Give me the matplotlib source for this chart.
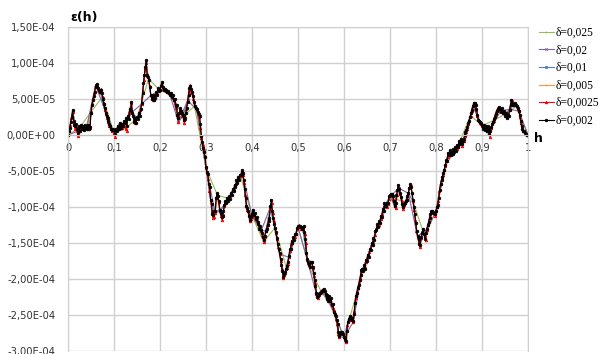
import numpy as np
import matplotlib.pyplot as plt
from matplotlib.ticker import FuncFormatter, MultipleLocator

# epsilon(h), in units of 1e-5, step delta = 0.002 (10 values per row = 0.02 in h)
eps_0002 = [
    0.0, 0.5, 1.0, 1.8, 2.5, 3.5, 2.0, 1.4, 1.3, 1.5,
    0.9, 0.3, 1.2, 0.6, 1.4, 0.9, 1.3, 0.7, 1.4, 1.0,
    1.3, 0.8, 1.4, 0.9, 1.1, 3.0, 4.2, 4.8, 5.4, 6.0,
    6.8, 7.1, 6.6, 6.5, 6.2, 6.0, 6.3, 5.8, 5.0, 4.3,
    3.7, 3.1, 2.6, 2.3, 1.9, 1.5, 1.2, 0.9, 0.7, 0.9,
    0.7, 0.2, 0.9, 0.5, 1.3, 0.8, 1.7, 1.2, 1.0, 1.5,
    1.2, 2.0, 1.6, 2.3, 1.2, 2.6, 2.2, 3.6, 3.3, 4.6,
    3.0, 2.6, 1.8, 2.4, 1.7, 2.5, 2.2, 3.0, 2.7, 3.6,
    4.4, 5.8, 7.2, 8.4, 9.5, 10.4, 8.3, 8.1, 7.6, 6.7,
    5.6, 5.0, 5.5, 4.8, 5.3, 5.2, 6.0, 5.6, 6.5, 6.1,
    6.2, 6.8, 7.3, 6.6, 6.3, 6.4, 6.3, 6.1, 6.0, 6.1,
    5.9, 5.5, 5.9, 5.3, 5.5, 4.8, 5.0, 4.0, 4.2, 2.8,
    2.3, 3.0, 3.8, 3.3, 3.0, 2.8, 2.1, 2.3, 3.0, 3.7,
    4.6, 5.5, 6.5, 6.8, 6.4, 6.0, 5.4, 4.6, 4.0, 3.8,
    3.6, 3.2, 2.9, 2.7, 1.5, -0.2, -1.0, -1.8, -2.4, -3.0,
    -4.4, -5.2, -5.4, -6.8, -7.2, -9.0, -9.6, -11.0, -11.1, -10.6,
    -10.5, -8.8, -8.1, -8.5, -9.2, -10.4, -10.9, -11.4, -11.2, -10.5,
    -9.7, -9.1, -9.5, -8.7, -9.2, -8.5, -8.9, -8.1, -8.3, -7.5,
    -7.8, -6.9, -7.2, -6.3, -6.6, -5.8, -6.2, -5.5, -5.6, -4.9,
    -5.3, -6.2, -7.5, -8.7, -9.8, -10.2, -10.6, -11.2, -11.8, -11.4,
    -11.0, -10.4, -11.1, -10.8, -11.6, -11.4, -12.3, -12.1, -13.0, -12.6,
    -13.2, -13.6, -14.1, -14.6, -14.0, -13.4, -13.0, -12.5, -12.0, -11.5,
    -9.8, -9.0, -10.5, -11.5, -12.3, -12.9, -13.5, -14.3, -15.2, -15.8,
    -16.4, -17.2, -18.0, -18.9, -19.7, -19.3, -19.0, -18.6, -18.2, -17.6,
    -16.8, -15.9, -15.9, -14.7, -15.0, -14.2, -14.6, -13.7, -13.8, -12.9,
    -12.7, -12.6, -12.6, -12.8, -13.0, -12.8, -12.7, -13.5, -14.5, -16.4,
    -17.2, -17.6, -18.0, -18.3, -17.6, -17.6, -18.4, -19.2, -20.1, -21.0,
    -22.0, -22.5, -22.3, -22.1, -22.0, -21.8, -21.6, -21.5, -21.4, -21.6,
    -22.1, -22.8, -22.2, -23.0, -22.4, -23.1, -22.6, -23.6, -23.5, -24.6,
    -24.8, -25.2, -25.7, -26.2, -27.3, -27.9, -27.6, -27.3, -27.4, -27.7,
    -28.0, -28.3, -28.6, -27.2, -26.0, -25.6, -25.3, -25.2, -25.4, -25.7,
    -25.9, -24.8, -23.3, -22.4, -21.9, -21.3, -20.8, -20.2, -19.5, -18.8,
    -18.6, -18.9, -18.1, -18.6, -17.4, -17.5, -16.6, -16.9, -15.8, -16.0,
    -15.0, -15.3, -14.3, -14.6, -13.3, -13.2, -12.4, -12.8, -12.0, -12.2,
    -11.2, -11.4, -10.3, -10.5, -9.4, -9.8, -9.9, -9.5, -9.4, -8.5,
    -8.4, -8.2, -8.2, -8.5, -9.2, -9.9, -9.5, -8.4, -7.6, -6.9,
    -7.5, -8.1, -8.6, -9.6, -10.0, -9.6, -9.4, -9.2, -9.0, -8.5,
    -8.0, -7.4, -6.8, -7.2, -8.0, -9.0, -10.0, -11.0, -12.2, -13.4,
    -14.0, -14.5, -15.2, -15.3, -14.2, -13.6, -13.0, -13.8, -14.4, -13.6,
    -13.0, -12.5, -12.1, -11.5, -11.0, -10.6, -10.5, -10.8, -10.9, -11.0,
    -10.5, -10.0, -9.7, -8.8, -7.6, -6.8, -6.2, -5.8, -5.3, -4.8,
    -4.2, -3.5, -3.6, -2.5, -2.8, -2.1, -2.8, -2.3, -2.7, -2.0,
    -2.4, -1.7, -2.2, -1.4, -1.7, -0.8, -1.2, -0.6, -1.3, -0.9,
    -0.6, 0.0, 0.4, 0.7, 1.1, 1.6, 2.0, 2.5, 3.0, 3.5,
    4.0, 4.4, 4.5, 4.1, 3.6, 2.8, 2.1, 2.0, 1.8, 1.6,
    1.4, 0.9, 1.4, 0.7, 1.2, 0.5, 1.3, 0.8, 0.1, 0.5,
    1.1, 1.5, 1.8, 2.2, 2.5, 2.9, 3.3, 3.6, 3.9, 3.6,
    3.6, 3.2, 3.7, 3.0, 3.4, 2.7, 3.1, 2.4, 2.8, 2.6,
    3.5, 4.2, 4.9, 4.5, 4.2, 4.3, 4.4, 4.2, 4.0, 3.7,
    3.4, 2.8, 2.0, 1.2, 0.9, 0.6, 0.5, 0.3, 0.1, 0.0,
    0.0,
]

# step delta = 0.0025 (8 values per row = 0.02 in h)
eps_00025 = [
    0.0, 0.6, 1.4, 2.4, 3.2, 1.6, 0.9, 1.2,
    0.5, -0.1, 1.0, 1.4, 1.2, 0.8, 1.0, 1.3,
    1.0, 0.9, 1.4, 1.0, 3.2, 4.4, 5.1, 5.9,
    6.9, 7.0, 6.4, 6.1, 6.0, 6.4, 5.3, 4.4,
    3.5, 2.9, 2.3, 1.8, 1.3, 0.9, 0.6, 0.8,
    0.3, -0.3, 0.7, 1.0, 1.3, 1.6, 1.0, 1.0,
    1.3, 1.8, 0.9, 0.6, 2.5, 3.1, 3.7, 4.4,
    3.2, 2.2, 1.6, 1.8, 2.3, 2.6, 3.0, 3.5,
    4.3, 6.1, 7.6, 9.2, 10.0, 8.2, 7.8, 6.8,
    5.5, 5.2, 4.8, 5.0, 5.6, 5.8, 6.2, 6.4,
    6.2, 7.0, 7.4, 6.4, 6.3, 6.2, 6.0, 6.0,
    5.9, 5.7, 5.6, 5.2, 4.9, 4.4, 3.8, 2.8,
    1.8, 3.2, 3.5, 2.7, 2.6, 1.6, 2.2, 3.6,
    4.8, 6.0, 6.9, 6.3, 5.9, 5.0, 4.0, 3.7,
    3.5, 2.9, 2.5, 1.0, -0.4, -1.4, -2.2, -2.9,
    -4.6, -5.3, -6.1, -7.8, -9.0, -10.6, -11.5, -11.4,
    -10.8, -8.6, -8.4, -9.3, -10.6, -11.3, -11.8, -11.0,
    -9.8, -9.3, -9.1, -8.9, -8.8, -8.5, -8.2, -7.8,
    -7.6, -7.1, -6.8, -6.4, -6.1, -5.9, -5.7, -5.0,
    -5.5, -6.6, -8.3, -9.9, -10.4, -11.0, -11.9, -11.6,
    -11.2, -10.8, -11.0, -11.4, -11.8, -12.2, -12.7, -12.9,
    -13.3, -13.9, -14.8, -14.1, -13.3, -12.8, -12.2, -11.6,
    -10.0, -9.4, -10.9, -12.0, -12.9, -13.6, -14.5, -15.6,
    -16.5, -17.5, -18.6, -19.8, -19.5, -19.1, -18.5, -17.9,
    -17.0, -16.1, -15.2, -14.8, -14.5, -14.2, -13.8, -13.0,
    -12.8, -12.5, -12.8, -13.1, -12.9, -12.7, -13.8, -15.0,
    -17.3, -17.8, -18.4, -17.7, -17.6, -18.5, -19.6, -20.6,
    -22.1, -22.6, -22.2, -22.0, -21.7, -21.5, -21.4, -21.7,
    -22.2, -22.5, -22.6, -22.8, -22.9, -23.4, -24.0, -24.3,
    -25.0, -25.5, -26.2, -27.6, -28.0, -27.5, -27.4, -27.7,
    -28.1, -28.5, -28.8, -26.4, -25.7, -25.3, -25.2, -25.6,
    -26.0, -24.5, -22.6, -22.0, -21.2, -20.6, -19.8, -18.9,
    -18.7, -18.5, -18.3, -17.6, -17.1, -16.7, -16.2, -15.8,
    -15.3, -14.9, -14.5, -13.9, -13.0, -12.7, -12.5, -12.1,
    -11.6, -11.0, -10.4, -9.8, -9.6, -10.0, -9.6, -8.9,
    -8.5, -8.2, -8.3, -8.9, -9.9, -10.2, -8.3, -7.3,
    -7.4, -8.2, -9.2, -10.3, -9.7, -9.4, -9.1, -8.7,
    -8.1, -7.2, -7.0, -8.0, -9.2, -10.4, -11.8, -13.4,
    -14.1, -14.9, -15.6, -14.3, -13.5, -13.1, -14.0, -14.6,
    -13.2, -12.5, -11.8, -11.2, -10.7, -10.5, -10.9, -11.2,
    -10.6, -10.0, -9.1, -7.8, -6.8, -6.0, -5.5, -4.9,
    -4.3, -3.6, -3.0, -2.6, -2.5, -2.7, -2.6, -2.5,
    -2.2, -2.0, -1.9, -1.6, -1.2, -0.9, -1.0, -1.5,
    -0.9, -0.1, 0.4, 0.9, 1.5, 2.1, 2.7, 3.3,
    4.0, 4.5, 4.2, 3.5, 2.7, 2.0, 1.7, 1.5,
    1.3, 1.1, 1.0, 0.8, 0.5, 1.0, 0.6, -0.3,
    1.0, 1.6, 2.0, 2.6, 3.1, 3.5, 3.8, 3.5,
    3.3, 3.5, 3.3, 3.0, 2.9, 2.7, 2.5, 2.8,
    3.6, 4.4, 4.8, 4.2, 4.3, 4.3, 4.0, 3.6,
    3.3, 2.5, 1.6, 1.0, 0.6, 0.4, 0.2, 0.0,
    0.0,
]

assert len(eps_0002) == 501 and len(eps_00025) == 401

# coarser steps are the same nodes taken less often
eps_0005 = eps_00025[::2]
eps_001 = eps_00025[::4]
eps_002 = eps_00025[::8]
eps_0025 = eps_00025[::10]

series = [
    ("δ=0,025", eps_0025, "#9bbb59", "+"),
    ("δ=0,02", eps_002, "#8064a2", "x"),
    ("δ=0,01", eps_001, "#4f81bd", "s"),
    ("δ=0,005", eps_0005, "#f79646", "+"),
    ("δ=0,0025", eps_00025, "#ff0000", "^"),
    ("δ=0,002", eps_0002, "#000000", "o"),
]


def fmt_x(x, pos):
    if abs(x) < 1e-9:
        return "0"
    if abs(x - 1) < 1e-9:
        return "1"
    return f"{x:.1f}".replace(".", ",")


def fmt_y(y, pos):
    if abs(y) < 1e-12:
        y = 0.0
    return f"{y:.2E}".replace(".", ",")


fig = plt.figure(figsize=(6.05, 3.54), dpi=100)
ax = fig.add_axes([68 / 605, 3 / 354, 460 / 605, 324 / 354])

for label, vals, color, marker in series:
    v = np.array(vals) * 1e-5
    h = np.linspace(0, 1, len(v))
    ax.plot(h, v, color=color, lw=0.8, marker=marker, ms=1.8, mew=0.6, label=label)

ax.set_xlim(0, 1)
ax.set_ylim(-3e-4, 1.5e-4)
ax.xaxis.set_major_locator(MultipleLocator(0.1))
ax.yaxis.set_major_locator(MultipleLocator(5e-5))
ax.xaxis.set_major_formatter(FuncFormatter(fmt_x))
ax.yaxis.set_major_formatter(FuncFormatter(fmt_y))

ax.grid(True, color="#d0d0d0", lw=1)
ax.set_axisbelow(True)
for s in ["top", "right", "left"]:
    ax.spines[s].set_color("#d0d0d0")
ax.spines["bottom"].set_position(("data", 0))
ax.spines["bottom"].set_color("#bfbfbf")
ax.tick_params(length=0, labelsize=7.2, colors="#333333")
ax.tick_params(axis="x", pad=6)
ax.tick_params(axis="y", pad=9)

fig.text(70 / 605, 1 - 17 / 354, "ε(h)", fontsize=9, fontweight="bold", va="center")
fig.text(534 / 605, 1 - 138 / 354, "h", fontsize=9, fontweight="bold", va="center")

fig.legend(loc="upper left", bbox_to_anchor=(539 / 605, 1 - 27 / 354), frameon=False,
           prop={"family": "Liberation Serif", "size": 8.3}, handlelength=1.3,
           handletextpad=0.15, labelspacing=0.48, borderaxespad=0, borderpad=0)

fig.savefig("out.png", dpi=100)
